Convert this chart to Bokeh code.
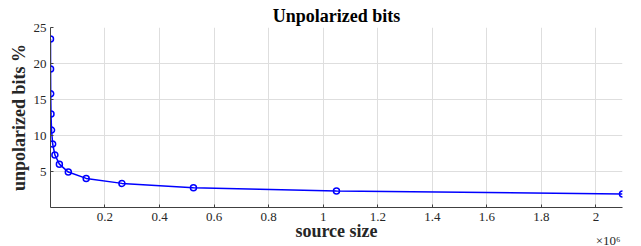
from bokeh.plotting import figure
from bokeh.models import Range1d, FixedTicker, Title
from bokeh.embed import file_html
from bokeh.resources import INLINE

# data
source_size = [256, 512, 1024, 2048, 4096, 8192, 16384, 32768, 65536,
               131072, 262144, 524288, 1048576, 2097152]
unpolarized_pct = [23.4, 19.25, 15.8, 13.0, 10.75, 8.82, 7.30, 6.02, 4.92,
                   4.04, 3.35, 2.75, 2.30, 1.88]
x_ticks = [200000, 400000, 600000, 800000, 1000000, 1200000, 1400000,
           1600000, 1800000, 2000000]
x_tick_labels = ["0.2", "0.4", "0.6", "0.8", "1", "1.2", "1.4", "1.6", "1.8", "2"]
y_ticks = [5, 10, 15, 20, 25]
title_text = "Unpolarized bits"
x_label = "source size"
y_label = "unpolarized bits %"
exp_text = "\u00d710\u2076"

SERIF = "Liberation Serif"
TXT = "#262626"

p = figure(width=641, height=246, output_backend="svg", toolbar_location=None,
           x_range=Range1d(source_size[0], source_size[-1]),
           y_range=Range1d(0, 25),
           min_border_left=50, min_border_right=19,
           min_border_top=27, min_border_bottom=39)
p.outline_line_color = None
p.background_fill_color = None
p.border_fill_color = None

p.title.text = title_text
p.title.align = "center"
p.title.text_font = SERIF
p.title.text_font_size = "18px"
p.title.text_font_style = "bold"
p.title.text_color = "#000000"
p.title.standoff = 3
p.title.offset = 0

p.xaxis.ticker = FixedTicker(ticks=x_ticks)
p.xaxis.major_label_overrides = {t: l for t, l in zip(x_ticks, x_tick_labels)}
p.yaxis.ticker = FixedTicker(ticks=y_ticks)

for ax in (p.xaxis, p.yaxis):
    ax.major_tick_in = 3
    ax.major_tick_out = 0
    ax.minor_tick_in = 0
    ax.minor_tick_out = 0
    ax.axis_line_color = "#404040"
    ax.major_tick_line_color = "#404040"
    ax.major_label_text_font = SERIF
    ax.major_label_text_font_size = "13px"
    ax.major_label_text_color = TXT
    ax.axis_label_text_font = SERIF
    ax.axis_label_text_font_size = "18px"
    ax.axis_label_text_font_style = "bold"
    ax.axis_label_text_color = TXT

p.xaxis.axis_label = x_label
p.yaxis.axis_label = y_label
p.xaxis.major_label_standoff = 5
p.xaxis.axis_label_standoff = -3
p.yaxis.major_label_standoff = 4
p.yaxis.axis_label_standoff = 2

p.xgrid.ticker = FixedTicker(ticks=x_ticks)
p.ygrid.ticker = FixedTicker(ticks=y_ticks)
p.grid.grid_line_color = "#dedede"
p.grid.grid_line_width = 1

p.line(source_size, unpolarized_pct, line_color="#0000ff", line_width=1.5)
p.scatter(source_size, unpolarized_pct, marker="circle", size=6,
          line_color="#0000ff", line_width=1.5, fill_color="white", fill_alpha=0.0)

exp_title = Title(text=exp_text, align="right", vertical_align="top",
                  text_font=SERIF, text_font_size="13px", text_font_style="normal",
                  text_color=TXT, standoff=-22, offset=2)
p.add_layout(exp_title, "below")

open("out.html", "w").write(file_html(p, INLINE))
